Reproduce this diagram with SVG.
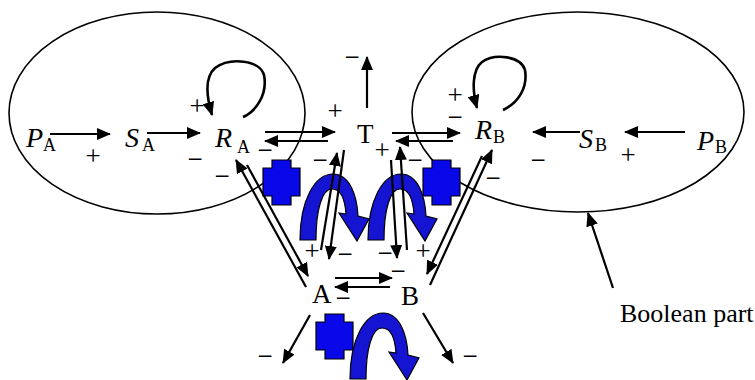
<svg xmlns="http://www.w3.org/2000/svg" width="755" height="380" viewBox="0 0 755 380">
<style>
text{font-family:"Liberation Serif","Times New Roman",serif;fill:#000}
.it{font-style:italic;font-size:28px}
.rm{font-size:27px}
.sub{font-size:18px}
.sg{font-size:27px;text-anchor:middle}
.lbl{font-size:26px}
.ell{fill:none;stroke:#000;stroke-width:1.6}
.ln{fill:none;stroke:#000;stroke-width:2.2;marker-end:url(#ah)}
.lp{fill:none;stroke:#000;stroke-width:2.6;marker-end:url(#ah)}
.cross{fill:#0808e8;stroke:#000;stroke-width:1.2}
.arc{fill:#1414d2;stroke:#000;stroke-width:1.2}
</style>
<defs>
<marker id="ah" viewBox="0 0 14 12" refX="13" refY="6" markerWidth="14" markerHeight="12" markerUnits="userSpaceOnUse" orient="auto"><path d="M0,0 L14,6 L0,12 z" fill="#000"/></marker>
<path id="crossShape" d="M272,160 H291 V168 H300 V196 H291 V205 H272 V196 H263 V168 H272 Z"/>
<path id="arcShape" d="M300,240 C300,200 315,174 333,174 C350,174 357,196 358,216 L369,219 L357,241 L339,213 L346,214 C345,200 341,189 332,189 C322,189 316,210 316,240 Z"/>
</defs>
<rect width="755" height="380" fill="#fff"/>
<g id="boolean-part-A"><ellipse class="ell" cx="157" cy="113" rx="148" ry="101"/></g>
<g id="boolean-part-B"><ellipse class="ell" cx="578" cy="112" rx="166" ry="100"/></g>
<g id="regulators">
<use href="#crossShape" class="cross"/>
<use href="#crossShape" class="cross" transform="translate(160,0)"/>
<use href="#crossShape" class="cross" transform="translate(53,154)"/>
<use href="#arcShape" class="arc"/>
<use href="#arcShape" class="arc" transform="translate(68,0)"/>
<use href="#arcShape" class="arc" transform="translate(50,139)"/>
</g>
<g id="connectors">
<path class="ln" d="M50,134 L110,134"/>
<path class="ln" d="M147,133 L200,133"/>
<path class="lp" d="M243,117 C255,112 268,95 264,75 C260,60 230,57 215,68 C205,77 206,95 212,115"/>
<path class="ln" d="M265,132 L335,132"/>
<path class="ln" d="M328,141 L265,141"/>
<path class="ln" d="M367,108 L367,57"/>
<path class="ln" d="M392,133 L460,133"/>
<path class="ln" d="M453,141 L396,141"/>
<path class="lp" d="M503,110 C518,103 528,88 525,70 C521,56 495,53 482,62 C472,70 472,90 477,108"/>
<path class="ln" d="M580,132 L533,132"/>
<path class="ln" d="M685,132 L625,132"/>
<path class="ln" d="M306,287 L236,160"/>
<path class="ln" d="M247,165 L308,276"/>
<path class="ln" d="M430,285 L492,150"/>
<path class="ln" d="M482,156 L427,274"/>
<path class="ln" d="M321,250 L337,153"/>
<path class="ln" d="M344,150 L329,259"/>
<path class="ln" d="M391,160 L397,258"/>
<path class="ln" d="M407,250 L400,147"/>
<path class="ln" d="M335,278 L392,278"/>
<path class="ln" d="M390,287 L335,287"/>
<path class="ln" d="M310,315 L283,363"/>
<path class="ln" d="M423,313 L453,363"/>
<path class="ln" d="M613,288 L588,213"/>
</g>
<g id="node-PA"><text class="it" x="26" y="147">P</text><text class="sub" x="43" y="151">A</text></g>
<g id="node-SA"><text class="it" x="125" y="147">S</text><text class="sub" x="142" y="151">A</text></g>
<g id="node-RA"><text class="it" x="215" y="147">R</text><text class="sub" x="237" y="153">A</text></g>
<g id="node-T"><text class="rm" x="357" y="143">T</text></g>
<g id="node-RB"><text class="it" x="475" y="139">R</text><text class="sub" x="493" y="143">B</text></g>
<g id="node-SB"><text class="it" x="579" y="148">S</text><text class="sub" x="595" y="151">B</text></g>
<g id="node-PB"><text class="it" x="697" y="150">P</text><text class="sub" x="715" y="153">B</text></g>
<g id="node-A"><text class="rm" x="312" y="303">A</text></g>
<g id="node-B"><text class="rm" x="401" y="305">B</text></g>
<g id="label-boolean"><text class="lbl" x="620" y="322">Boolean part</text></g>
<g id="signs">
<text class="sg" x="93" y="165">+</text>
<text class="sg" x="195" y="168">−</text>
<text class="sg" x="197" y="115">+</text>
<text class="sg" x="265" y="159">−</text>
<text class="sg" x="335" y="120">+</text>
<text class="sg" x="352" y="66">−</text>
<text class="sg" x="222" y="185">−</text>
<text class="sg" x="320" y="169">−</text>
<text class="sg" x="382" y="159">+</text>
<text class="sg" x="415" y="169">−</text>
<text class="sg" x="455" y="104">+</text>
<text class="sg" x="455" y="126">−</text>
<text class="sg" x="538" y="169">−</text>
<text class="sg" x="628" y="164">+</text>
<text class="sg" x="493" y="187">−</text>
<text class="sg" x="312" y="260">+</text>
<text class="sg" x="345" y="263">−</text>
<text class="sg" x="385" y="262">−</text>
<text class="sg" x="423" y="260">+</text>
<text class="sg" x="398" y="280">−</text>
<text class="sg" x="343" y="307">−</text>
<text class="sg" x="265" y="365">−</text>
<text class="sg" x="470" y="365">−</text>
</g>
</svg>
